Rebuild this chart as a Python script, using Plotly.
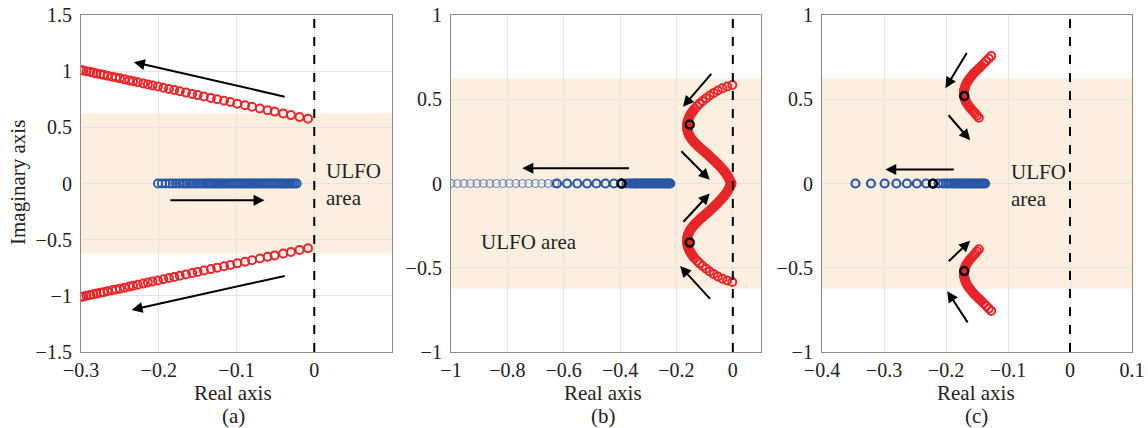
import plotly.graph_objects as go

# ---------------- data ----------------
# Panel (a)
a_red_re = [-0.008, -0.019, -0.030, -0.040, -0.051, -0.060, -0.070, -0.080, -0.089, -0.099,
            -0.108, -0.116, -0.125, -0.133, -0.142, -0.150, -0.157, -0.165, -0.173, -0.180,
            -0.187, -0.194, -0.201, -0.208, -0.214, -0.220, -0.227, -0.233, -0.238, -0.244,
            -0.250, -0.255, -0.260, -0.266, -0.271, -0.275, -0.280, -0.284, -0.288, -0.293,
            -0.297, -0.300]
a_red_im = [0.576, 0.592, 0.609, 0.624, 0.640, 0.653, 0.668, 0.683, 0.696, 0.711,
            0.725, 0.736, 0.750, 0.762, 0.775, 0.787, 0.797, 0.809, 0.821, 0.832,
            0.842, 0.852, 0.863, 0.873, 0.882, 0.891, 0.901, 0.910, 0.918, 0.927,
            0.936, 0.943, 0.950, 0.959, 0.967, 0.973, 0.980, 0.986, 0.992, 1.000,
            1.005, 1.010]
a_blue_re = [-0.201, -0.196, -0.191, -0.186, -0.182, -0.178, -0.174, -0.170, -0.167, -0.164,
             -0.161, -0.158, -0.155, -0.152, -0.149, -0.146, -0.143,
             -0.140, -0.1375, -0.135, -0.1325, -0.130, -0.1275, -0.125, -0.1225, -0.120,
             -0.1175, -0.115, -0.1125, -0.110, -0.1075, -0.105, -0.1025, -0.100, -0.0975,
             -0.095, -0.0925, -0.090, -0.0875, -0.085, -0.0825, -0.080, -0.0775, -0.075,
             -0.0725, -0.070, -0.0675, -0.065, -0.0625, -0.060, -0.0575, -0.055, -0.0525,
             -0.050, -0.0475, -0.045, -0.0425, -0.040, -0.0375, -0.035, -0.0325, -0.030,
             -0.0275, -0.025, -0.0225]

# Panel (b)
b_blue_thin_re = [-1.000, -0.977, -0.954, -0.931, -0.908, -0.885, -0.862, -0.839, -0.816,
                  -0.793, -0.770, -0.747, -0.724, -0.701, -0.678, -0.655, -0.632]
b_blue_re = [-0.624, -0.588, -0.552, -0.517, -0.484, -0.452, -0.422, -0.393, -0.377, -0.366,
             -0.358, -0.351, -0.345, -0.339, -0.333, -0.327, -0.321, -0.315, -0.309, -0.303,
             -0.297, -0.291, -0.285, -0.279, -0.273, -0.267, -0.261, -0.255, -0.249, -0.243,
             -0.237, -0.231, -0.226, -0.222]
b_black_re = [-0.395]
b_red_re = [-0.002, -0.020, -0.037, -0.053, -0.068, -0.082, -0.095, -0.107, -0.118, -0.127,
            -0.135, -0.141, -0.147, -0.152, -0.156, -0.159, -0.161, -0.162, -0.162, -0.161,
            -0.159, -0.156, -0.152, -0.147, -0.141, -0.134, -0.126, -0.118, -0.109, -0.100,
            -0.091, -0.082, -0.073, -0.064, -0.055, -0.046, -0.038, -0.030, -0.023, -0.017,
            -0.012, -0.008, -0.005]
b_red_im = [0.585, 0.576, 0.565, 0.552, 0.537, 0.522, 0.506, 0.490, 0.474, 0.458,
            0.444, 0.431, 0.417, 0.403, 0.389, 0.375, 0.361, 0.347, 0.333, 0.319,
            0.305, 0.292, 0.279, 0.266, 0.253, 0.240, 0.227, 0.214, 0.201, 0.188,
            0.175, 0.161, 0.147, 0.133, 0.118, 0.103, 0.088, 0.072, 0.056, 0.040,
            0.024, 0.010, 0.000]
b_black_pole_re = [-0.153, -0.153]
b_black_pole_im = [0.350, -0.350]

# Panel (c)
c_blue_re = [-0.346, -0.321, -0.299, -0.280, -0.263, -0.247, -0.232, -0.212, -0.205, -0.200,
             -0.196, -0.192, -0.188, -0.185, -0.182, -0.179, -0.176, -0.173, -0.170, -0.167,
             -0.164, -0.161, -0.158, -0.155, -0.152, -0.149, -0.146, -0.143, -0.140, -0.137]
c_black_re = [-0.221]
c_red_re = [-0.127, -0.131, -0.135, -0.139, -0.143, -0.147, -0.151, -0.155, -0.158, -0.161,
            -0.164, -0.166, -0.168, -0.169, -0.170, -0.171, -0.171, -0.171, -0.171, -0.170,
            -0.169, -0.168, -0.166, -0.164, -0.162, -0.159, -0.156, -0.153, -0.150, -0.147]
c_red_im = [0.757, 0.742, 0.727, 0.712, 0.697, 0.683, 0.669, 0.655, 0.641, 0.627,
            0.613, 0.600, 0.587, 0.575, 0.563, 0.551, 0.540, 0.529, 0.518, 0.507,
            0.496, 0.486, 0.475, 0.464, 0.453, 0.441, 0.429, 0.416, 0.403, 0.390]
c_black_pole_re = [-0.1705, -0.1705]
c_black_pole_im = [0.520, -0.520]

ulfo_band = 0.625

# ---------------- style ----------------
RED = "#e8262a"
BLUE = "#2757a6"
LIGHTBLUE = "#5b7fc0"
BAND = "#fcefdf"
FONT = "Liberation Serif, Times New Roman, serif"

fig = go.Figure()


def ring(xs, ys, color, xa, ya, size=8, width=2.0):
    fig.add_trace(go.Scatter(x=xs, y=ys, mode="markers", xaxis=xa, yaxis=ya,
                             marker=dict(symbol="circle-open", size=size, color=color,
                                         line=dict(width=width, color=color)),
                             showlegend=False, hoverinfo="skip"))


def band(xs, ys, color, xa, ya, width):
    # dense part of a locus: overlapping rings merge into a solid stroke
    fig.add_trace(go.Scatter(x=xs, y=ys, mode="lines", xaxis=xa, yaxis=ya,
                             line=dict(color=color, width=width, shape="spline"),
                             showlegend=False, hoverinfo="skip"))


# (a)
ring(a_red_re, a_red_im, RED, "x", "y")
ring(a_red_re, [-v for v in a_red_im], RED, "x", "y")
ring(a_blue_re, [0] * len(a_blue_re), BLUE, "x", "y", width=1.8)

# (b)
ring(b_blue_thin_re, [0] * len(b_blue_thin_re), LIGHTBLUE, "x2", "y2", width=1.0)
ring(b_blue_re, [0] * len(b_blue_re), BLUE, "x2", "y2", width=2.2)
band(b_red_re[10:], b_red_im[10:], RED, "x2", "y2", 10)
band(b_red_re[10:], [-v for v in b_red_im[10:]], RED, "x2", "y2", 10)
ring(b_red_re, b_red_im, RED, "x2", "y2")
ring(b_red_re, [-v for v in b_red_im], RED, "x2", "y2")
ring(b_black_re, [0], "black", "x2", "y2", width=2.5)
ring(b_black_pole_re, b_black_pole_im, "black", "x2", "y2", width=2.5)

# (c)
ring(c_blue_re, [0] * len(c_blue_re), BLUE, "x3", "y3", width=2.2)
band(c_red_re[3:-3], c_red_im[3:-3], RED, "x3", "y3", 8)
band(c_red_re[3:-3], [-v for v in c_red_im[3:-3]], RED, "x3", "y3", 8)
ring(c_red_re, c_red_im, RED, "x3", "y3")
ring(c_red_re, [-v for v in c_red_im], RED, "x3", "y3")
ring(c_black_re, [0], "black", "x3", "y3", width=2.5)
ring(c_black_pole_re, c_black_pole_im, "black", "x3", "y3", width=2.5)

# ---------------- axes ----------------
W, H = 1148, 428
doms_x = [(81 / W, 392 / W), (451 / W, 761 / W), (822 / W, 1132 / W)]
dom_y = (1 - 352 / H, 1 - 15 / H)
xranges = [(-0.3, 0.1), (-1.0, 0.1), (-0.4, 0.1)]
yranges = [(-1.5, 1.5), (-1.0, 1.0), (-1.0, 1.0)]
xticks = [[-0.3, -0.2, -0.1, 0], [-1, -0.8, -0.6, -0.4, -0.2, 0],
          [-0.4, -0.3, -0.2, -0.1, 0, 0.1]]
yticks = [[-1.5, -1, -0.5, 0, 0.5, 1, 1.5], [-1, -0.5, 0, 0.5, 1], [-1, -0.5, 0, 0.5, 1]]


def lab(v):
    s = ("%g" % v)
    return s.replace("-", "\u2212")


axis_common = dict(showline=True, linecolor="#8a8a8a", linewidth=1.2, mirror=True,
                   showgrid=True, gridcolor="#e4e4e4", gridwidth=1, zeroline=False,
                   automargin=False, ticks="",
                   tickfont=dict(family=FONT, size=20, color="#222"))
layout_axes = {}
for i in range(3):
    xn = "xaxis" if i == 0 else "xaxis%d" % (i + 1)
    yn = "yaxis" if i == 0 else "yaxis%d" % (i + 1)
    ysuffix = "y" if i == 0 else "y%d" % (i + 1)
    xsuffix = "x" if i == 0 else "x%d" % (i + 1)
    xt = xticks[i] + ([0.1] if i < 2 else [])
    layout_axes[xn] = dict(axis_common, domain=doms_x[i], range=list(xranges[i]), anchor=ysuffix,
                           tickmode="array", tickvals=xt,
                           ticktext=[lab(v) if v in xticks[i] else "" for v in xt])
    layout_axes[yn] = dict(axis_common, domain=dom_y, range=list(yranges[i]), anchor=xsuffix,
                           tickmode="array", tickvals=yticks[i], ticklabelstandoff=4,
                           ticktext=[lab(v) for v in yticks[i]])
fig.update_layout(**layout_axes)

# ---------------- shapes ----------------
shapes = []
for i in range(3):
    xr = "x" if i == 0 else "x%d" % (i + 1)
    yr = "y" if i == 0 else "y%d" % (i + 1)
    shapes.append(dict(type="rect", xref=xr, yref=yr, x0=xranges[i][0], x1=xranges[i][1],
                       y0=-ulfo_band, y1=ulfo_band, fillcolor=BAND, line=dict(width=0),
                       layer="below"))
    shapes.append(dict(type="line", xref=xr, yref=yr, x0=0, x1=0,
                       y0=yranges[i][0], y1=yranges[i][1],
                       line=dict(color="black", width=2, dash="dash"), layer="above"))
fig.update_layout(shapes=shapes)

# ---------------- annotations ----------------
ann = []


def arrow(xr, yr, tail, head):
    ann.append(dict(xref=xr, yref=yr, axref=xr, ayref=yr, x=head[0], y=head[1],
                    ax=tail[0], ay=tail[1], showarrow=True, arrowhead=2, arrowsize=1.1,
                    arrowwidth=2, arrowcolor="black", text=""))


arrow("x", "y", (-0.036, 0.77), (-0.232, 1.08))
arrow("x", "y", (-0.036, -0.82), (-0.235, -1.125))
arrow("x", "y", (-0.187, -0.15), (-0.064, -0.15))

arrow("x2", "y2", (-0.072, 0.66), (-0.177, 0.455))
arrow("x2", "y2", (-0.188, 0.20), (-0.082, 0.022))
arrow("x2", "y2", (-0.180, -0.236), (-0.082, -0.059))
arrow("x2", "y2", (-0.076, -0.694), (-0.187, -0.49))
arrow("x2", "y2", (-0.363, 0.091), (-0.747, 0.091))

arrow("x3", "y3", (-0.165, 0.783), (-0.201, 0.566))
arrow("x3", "y3", (-0.198, 0.414), (-0.161, 0.257))
arrow("x3", "y3", (-0.198, -0.47), (-0.161, -0.340))
arrow("x3", "y3", (-0.1635, -0.833), (-0.198, -0.639))
arrow("x3", "y3", (-0.185, 0.083), (-0.298, 0.083))

tf = dict(family=FONT, size=21, color="#222")
ann.append(dict(xref="x", yref="y", x=0.012, y=-0.01, text="ULFO<br>area", showarrow=False,
                xanchor="left", yanchor="middle", align="left", font=tf))
ann.append(dict(xref="x2", yref="y2", x=-0.9, y=-0.35, text="ULFO area", showarrow=False,
                xanchor="left", yanchor="middle", font=tf))
ann.append(dict(xref="x3", yref="y3", x=-0.099, y=-0.01, text="ULFO<br>area", showarrow=False,
                xanchor="left", yanchor="middle", align="left", font=tf))

for cx, letter in [(233, "(a)"), (603, "(b)"), (976, "(c)")]:
    ann.append(dict(xref="paper", yref="paper", x=cx / W, y=1 - 393 / H, text="Real axis",
                    showarrow=False, xanchor="center", yanchor="middle", font=tf))
    ann.append(dict(xref="paper", yref="paper", x=cx / W, y=1 - 416 / H, text=letter,
                    showarrow=False, xanchor="center", yanchor="middle", font=tf))
ann.append(dict(xref="paper", yref="paper", x=18 / W, y=1 - 183 / H, text="Imaginary axis",
                showarrow=False, textangle=-90, xanchor="center", yanchor="middle", font=tf))

fig.update_layout(annotations=ann, width=W, height=H, autosize=False,
                  margin=dict(l=0, r=0, t=0, b=0, pad=0), paper_bgcolor="white",
                  plot_bgcolor="white", showlegend=False)

fig.write_html("out.html")
